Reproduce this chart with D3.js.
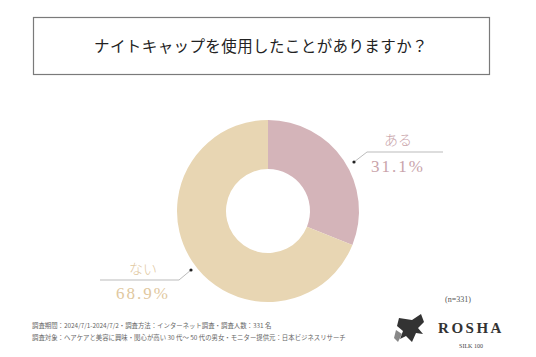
<!DOCTYPE html>
<html><head><meta charset="utf-8">
<script src="https://cdn.jsdelivr.net/npm/d3@7"></script>
<style>
html,body{margin:0;padding:0;background:#fff;}
svg{display:block;}
</style></head>
<body>
<svg id="c" width="536" height="357"></svg>
<script>
const title = "ナイトキャップを使用したことがありますか？";
const categories = ["ある", "ない"];
const values = [31.1, 68.9];
const valueLabels = ["31.1%", "68.9%"];
const colors = ["#d4b4b9", "#e8d6b3"];
const textColors = ["#c9a4ab", "#dfc8a0"];
const sampleNote = "(n=331)";
const footnotes = [
  "調査期間：2024/7/1-2024/7/2・調査方法：インターネット調査・調査人数：331 名",
  "調査対象：ヘアケアと美容に興味・関心が高い 30 代～ 50 代の男女・モニター提供元：日本ビジネスリサーチ"
];

const svg = d3.select("#c");
const serif = "'Liberation Serif','DejaVu Serif','Noto Sans CJK JP',serif";

// title box
svg.append("rect").attr("x",33.5).attr("y",17.5).attr("width",456).attr("height",57)
  .attr("fill","#fff").attr("stroke","#7a7a7a").attr("stroke-width",1.2);
svg.append("text").attr("x",261).attr("y",52).attr("text-anchor","middle")
  .attr("font-family","'Noto Sans CJK JP',sans-serif").attr("font-size",15.5)
  .attr("fill","#222").attr("letter-spacing",0.4).text(title);

// donut
const cx = 268, cy = 211, R = 91, r = 42;
const pie = d3.pie().sort(null).value(d => d);
const arcs = pie(values);
const arc = d3.arc().innerRadius(r).outerRadius(R);
const g = svg.append("g").attr("transform",`translate(${cx},${cy})`);
g.selectAll("path").data(arcs).enter().append("path")
  .attr("d",arc).attr("fill",(d,i)=>colors[i]);

// leader lines & labels
const leaders = [
  {dot:[354,162], elbow:[367,152], end:[443,152], tx:398, ty1:145, ty2:172},
  {dot:[191,270], elbow:[179,280], end:[100,280], tx:143, ty1:274, ty2:299}
];
leaders.forEach((L,i)=>{
  svg.append("polyline").attr("points",[L.dot,L.elbow,L.end].map(p=>p.join(",")).join(" "))
    .attr("fill","none").attr("stroke","#aaa").attr("stroke-width",0.8);
  svg.append("circle").attr("cx",L.dot[0]).attr("cy",L.dot[1]).attr("r",1.6).attr("fill","#222");
  svg.append("text").attr("x",L.tx).attr("y",L.ty1).attr("text-anchor","middle")
    .attr("font-family","'Noto Sans CJK JP',sans-serif").attr("font-size",14).attr("font-weight",300)
    .attr("fill",textColors[i]).text(categories[i]);
  svg.append("text").attr("x",L.tx).attr("y",L.ty2).attr("text-anchor","middle")
    .attr("font-family",serif).attr("font-size",17).attr("letter-spacing",2)
    .attr("fill",textColors[i]).text(valueLabels[i]);
});

// n note
svg.append("text").attr("x",458).attr("y",302).attr("text-anchor","middle")
  .attr("font-family",serif).attr("font-size",8).attr("fill","#555").text(sampleNote);

// footnotes
footnotes.forEach((t,i)=>{
  svg.append("text").attr("x",32).attr("y",328+i*12)
    .attr("font-family","'Noto Sans CJK JP',sans-serif").attr("font-size",6.4)
    .attr("fill","#666").text(t);
});

// logo
const lg = svg.append("g");
lg.append("path").attr("d","M399,318 L412,320 L421,314 L424,322 L418,328 L423,334 L416,333 L412,342 L406,336 L400,339 L403,331 L397,326 Z")
  .attr("fill","#333");
lg.append("path").attr("d","M396,330 L402,334 L398,342 L394,338 Z").attr("fill","#888");
lg.append("text").attr("x",471).attr("y",333).attr("text-anchor","middle")
  .attr("font-family",serif).attr("font-size",15).attr("font-weight","bold")
  .attr("letter-spacing",2.5).attr("fill","#333").text("ROSHA");
lg.append("text").attr("x",471).attr("y",348).attr("text-anchor","middle")
  .attr("font-family",serif).attr("font-size",6).attr("fill","#444").text("SILK 100");
</script>
</body></html>
